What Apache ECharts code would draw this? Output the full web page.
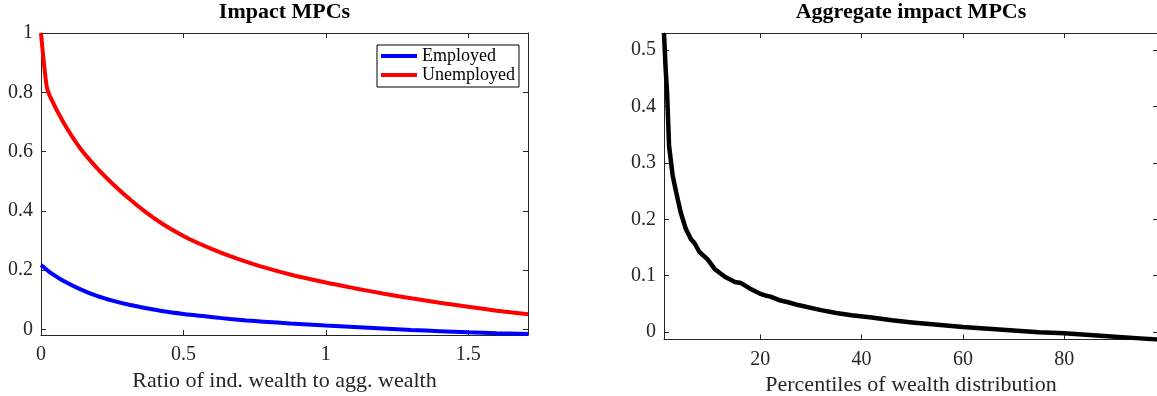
<!DOCTYPE html>
<html><head><meta charset="utf-8">
<script src="https://cdn.jsdelivr.net/npm/echarts@6/dist/echarts.min.js"></script>
<style>html,body{margin:0;padding:0;background:#fff;overflow:hidden}#c{width:1157px;height:396px}</style>
</head><body><div id="c"></div>
<script>
// ---- data ----
const wealthRatio   = [0, 0.02, 0.032, 0.078, 0.137, 0.196, 0.254, 0.313, 0.371, 0.43, 0.5, 0.547, 0.605, 0.664, 0.722, 0.781, 0.875, 1.0, 1.1, 1.2, 1.3, 1.4, 1.5, 1.6, 1.71];
const employedMPC   = [0.217, 0.201, 0.192, 0.164, 0.136, 0.113, 0.096, 0.082, 0.071, 0.061, 0.052, 0.047, 0.041, 0.035, 0.030, 0.026, 0.020, 0.013, 0.008, 0.003, -0.002, -0.006, -0.010, -0.013, -0.016];
const unemployedMPC = [1.0, 0.819, 0.785, 0.700, 0.612, 0.545, 0.489, 0.438, 0.393, 0.354, 0.315, 0.293, 0.269, 0.247, 0.228, 0.210, 0.185, 0.158, 0.139, 0.121, 0.105, 0.090, 0.076, 0.063, 0.051];
const percentiles   = [1, 1.3, 1.6, 2, 2.7, 3.4, 4.3, 5.3, 6.3, 7, 8, 9.6, 11, 13, 15, 16.2, 18, 20, 21, 22, 24, 25.5, 27.5, 30, 32, 35, 38, 42, 46, 50, 55, 60, 65, 70, 75, 80, 85, 90, 95, 98.5];
const aggregateMPC  = [0.53, 0.47, 0.426, 0.33, 0.278, 0.248, 0.212, 0.183, 0.165, 0.158, 0.142, 0.129, 0.112, 0.098, 0.089, 0.087, 0.077, 0.068, 0.065, 0.063, 0.056, 0.053, 0.048, 0.043, 0.039, 0.034, 0.030, 0.026, 0.021, 0.017, 0.013, 0.009, 0.006, 0.003, 0.0, -0.002, -0.005, -0.008, -0.011, -0.013];
const leftXTicks  = [0, 0.5, 1, 1.5];
const leftYTicks  = [0, 0.2, 0.4, 0.6, 0.8, 1];
const rightXTicks = [20, 40, 60, 80];
const rightYTicks = [0, 0.1, 0.2, 0.3, 0.4, 0.5];
const titles = ['Impact MPCs', 'Aggregate impact MPCs'];
const xNames = ['Ratio of ind. wealth to agg. wealth', 'Percentiles of wealth distribution'];
const seriesNames = ['Employed', 'Unemployed'];

const FONT = '"Liberation Serif", "Times New Roman", serif';
const AX = '#262626';

function axis(kind, grid, min, max, ticks, opts) {
  const a = {
    type: 'value', gridIndex: grid, min: min, max: max,
    position: opts.position,
    axisLine: { show: true, onZero: false, lineStyle: { color: AX, width: 1 } },
    axisTick: { show: true, inside: true, length: 5, customValues: ticks, lineStyle: { color: AX, width: 1 } },
    axisLabel: { show: !!opts.labels, customValues: ticks, margin: opts.margin || 8,
      fontFamily: FONT, fontSize: 20, color: AX },
    splitLine: { show: false }
  };
  if (opts.name) {
    a.name = opts.name; a.nameLocation = 'middle'; a.nameGap = opts.nameGap;
    a.nameTextStyle = { fontFamily: FONT, fontSize: 22, color: AX };
  }
  return a;
}

const z = (xs, ys) => xs.map((x, i) => [x, ys[i]]);

const option = {
  animation: false,
  backgroundColor: '#fff',
  title: [
    { text: titles[0], left: 284.5, top: 1, textAlign: 'center', padding: 0,
      textStyle: { fontFamily: FONT, fontSize: 22, fontWeight: 'bold', color: '#000' } },
    { text: titles[1], left: 911, top: 1, textAlign: 'center', padding: 0,
      textStyle: { fontFamily: FONT, fontSize: 22, fontWeight: 'bold', color: '#000' } }
  ],
  legend: {
    data: seriesNames, orient: 'vertical', left: 377, top: 45,
    icon: 'rect', itemWidth: 36, itemHeight: 4, itemGap: 1,
    padding: [2, 4, 3, 4], borderColor: '#000', borderWidth: 1, backgroundColor: '#fff',
    textStyle: { fontFamily: FONT, fontSize: 18, color: '#000' }
  },
  grid: [
    { left: 41, top: 33, width: 487, height: 302, outerBoundsMode: 'none', containLabel: false },
    { left: 664, top: 33, width: 494, height: 306.5, outerBoundsMode: 'none', containLabel: false }
  ],
  xAxis: [
    axis('x', 0, 0, 1.71, leftXTicks, { position: 'bottom', labels: true, margin: 10, name: xNames[0], nameGap: 35 }),
    axis('x', 0, 0, 1.71, leftXTicks, { position: 'top' }),
    axis('x', 1, 1, 98.5, rightXTicks, { position: 'bottom', labels: true, margin: 10, name: xNames[1], nameGap: 34 }),
    axis('x', 1, 1, 98.5, rightXTicks, { position: 'top' })
  ],
  yAxis: [
    axis('y', 0, -0.019, 1, leftYTicks, { position: 'left', labels: true, margin: 8 }),
    axis('y', 0, -0.019, 1, leftYTicks, { position: 'right' }),
    axis('y', 1, -0.013, 0.53, rightYTicks, { position: 'left', labels: true, margin: 8 }),
    axis('y', 1, -0.013, 0.53, rightYTicks, { position: 'right' })
  ],
  series: [
    { name: seriesNames[0], type: 'line', xAxisIndex: 0, yAxisIndex: 0, data: z(wealthRatio, employedMPC),
      showSymbol: false, smooth: 0.3, color: '#0000ff', lineStyle: { width: 4, color: '#0000ff' } },
    { name: seriesNames[1], type: 'line', xAxisIndex: 0, yAxisIndex: 0, data: z(wealthRatio, unemployedMPC),
      showSymbol: false, smooth: 0.3, color: '#ff0000', lineStyle: { width: 4, color: '#ff0000' } },
    { name: 'Aggregate', type: 'line', xAxisIndex: 2, yAxisIndex: 2, data: z(percentiles, aggregateMPC),
      showSymbol: false, smooth: false, color: '#000', lineStyle: { width: 4.5, color: '#000', join: 'round' } }
  ]
};
const chart = echarts.init(document.getElementById('c'), null, { renderer: 'canvas' });
chart.setOption(option);
</script>
</body></html>
